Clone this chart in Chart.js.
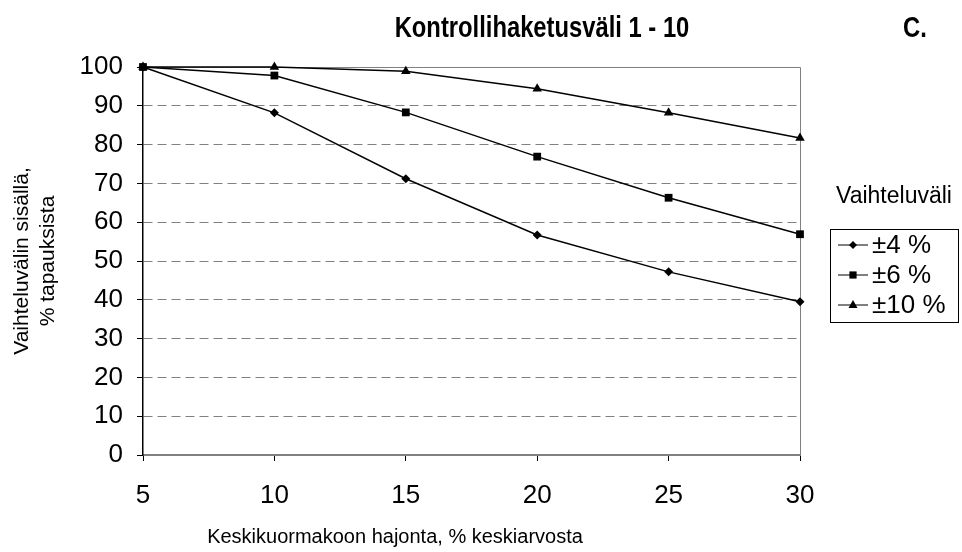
<!DOCTYPE html>
<html lang="fi">
<head>
    <meta charset="UTF-8">
    <title>Kontrollihaketusväli 1 - 10</title>
    <script src="https://cdn.jsdelivr.net/npm/chart.js"></script>
    <style>
        * { margin: 0; padding: 0; box-sizing: border-box; }
        body { background: #fff; }
        .chart-wrap { position: relative; width: 962px; height: 552px; }
    </style>
</head>
<body>
    <div class="chart-wrap">
        <canvas id="chart"></canvas>
    </div>

    <script>
        // Data
        const hajonta = [5, 10, 15, 20, 25, 30];
        const vali4 = [100, 88.2, 71.2, 56.7, 47.2, 39.5];
        const vali6 = [100, 97.8, 88.3, 76.9, 66.3, 56.9];
        const vali10 = [100, 100, 98.9, 94.4, 88.2, 81.7];
        const seriesNames = ['±4 %', '±6 %', '±10 %'];
        const yTicks = [0, 10, 20, 30, 40, 50, 60, 70, 80, 90, 100];

        const FONT = '"Liberation Sans", Arial, sans-serif';

        // manual marker drawing, used for the legend samples
        function marker(ctx, style, x, y, r) {
            ctx.beginPath();
            if (style === 'rectRot') {
                ctx.moveTo(x, y - r); ctx.lineTo(x + r, y); ctx.lineTo(x, y + r); ctx.lineTo(x - r, y);
            } else if (style === 'rect') {
                ctx.rect(x - r * 0.8, y - r * 0.8, r * 1.6, r * 1.6);
            } else {
                ctx.moveTo(x, y - r); ctx.lineTo(x + r * 0.9, y + r * 0.6); ctx.lineTo(x - r * 0.9, y + r * 0.6);
            }
            ctx.closePath();
            ctx.fill();
        }

        // condensed bold text (the original title uses a narrow face)
        function narrowText(ctx, text, x, y) {
            ctx.save();
            ctx.translate(x, y);
            ctx.scale(0.82, 1);
            ctx.fillText(text, 0, 0);
            ctx.restore();
        }

        // titles, plot frame and legend
        const extras = {
            id: 'extras',
            beforeDatasetsDraw(chart) {
                const { ctx, chartArea: a } = chart;
                ctx.save();
                ctx.strokeStyle = '#808080';
                ctx.lineWidth = 1;
                ctx.beginPath();
                ctx.moveTo(a.left, a.top + 0.5);
                ctx.lineTo(a.right + 0.5, a.top + 0.5);
                ctx.lineTo(a.right + 0.5, a.bottom);
                ctx.stroke();
                ctx.restore();
            },
            afterDraw(chart) {
                const ctx = chart.ctx;
                ctx.save();
                ctx.fillStyle = '#000';
                ctx.textBaseline = 'middle';

                // chart title + letter
                ctx.textAlign = 'center';
                ctx.font = 'bold 29px ' + FONT;
                narrowText(ctx, 'Kontrollihaketusväli 1 - 10', 542, 29);
                narrowText(ctx, 'C.', 915, 29);

                // x axis title
                ctx.font = '20px ' + FONT;
                ctx.fillText('Keskikuormakoon hajonta, % keskiarvosta', 395, 537);

                // y axis title, two lines
                ctx.save();
                ctx.translate(22, 261);
                ctx.rotate(-Math.PI / 2);
                ctx.font = '21px ' + FONT;
                ctx.fillText('Vaihteluvälin sisällä,', 0, 0);
                ctx.fillText('% tapauksista', 0, 26);
                ctx.restore();

                // legend
                ctx.font = '23px ' + FONT;
                ctx.fillText('Vaihteluväli', 894, 197);
                ctx.strokeStyle = '#000';
                ctx.lineWidth = 1;
                ctx.strokeRect(830.5, 229.5, 128, 93);
                ctx.textAlign = 'left';
                ctx.font = '26px ' + FONT;
                const styles = ['rectRot', 'rect', 'triangle'];
                const sizes = [4, 4.5, 5];
                seriesNames.forEach((name, i) => {
                    const y = 245 + i * 30;
                    ctx.beginPath();
                    ctx.moveTo(838, y);
                    ctx.lineTo(868, y);
                    ctx.stroke();
                    marker(ctx, styles[i], 853, y, sizes[i]);
                    ctx.fillText(name, 872, y + 1);
                });
                ctx.restore();
            }
        };

        const lineStyle = {
            borderColor: '#000',
            backgroundColor: '#000',
            borderWidth: 1.4,
            tension: 0,
            clip: false,
            pointBorderWidth: 0
        };

        new Chart(document.getElementById('chart'), {
            type: 'line',
            data: {
                labels: hajonta,
                datasets: [
                    Object.assign({ label: seriesNames[0], data: vali4, pointStyle: 'rectRot', pointRadius: 4.5 }, lineStyle),
                    Object.assign({ label: seriesNames[1], data: vali6, pointStyle: 'rect', pointRadius: 5.5 }, lineStyle),
                    Object.assign({ label: seriesNames[2], data: vali10, pointStyle: 'triangle', pointRadius: 5.5 }, lineStyle)
                ]
            },
            options: {
                responsive: true,
                maintainAspectRatio: false,
                animation: false,
                devicePixelRatio: 1,
                layout: { padding: { top: 67, right: 162, bottom: 0, left: 0 } },
                plugins: {
                    legend: { display: false },
                    tooltip: { enabled: false },
                    title: { display: false }
                },
                scales: {
                    x: {
                        type: 'category',
                        offset: false,
                        afterFit(scale) { scale.height = 97; },
                        grid: {
                            drawOnChartArea: false,
                            drawTicks: true,
                            tickLength: 6,
                            tickColor: '#000',
                            color: '#000'
                        },
                        border: { color: '#808080', width: 2 },
                        ticks: {
                            color: '#000',
                            font: { family: FONT, size: 26 },
                            padding: 19,
                            maxRotation: 0
                        }
                    },
                    y: {
                        min: 0,
                        max: 100,
                        afterFit(scale) { scale.width = 143; },
                        afterBuildTicks(scale) { scale.ticks = yTicks.map(v => ({ value: v })); },
                        grid: {
                            color: '#808080',
                            lineWidth: 1,
                            drawTicks: true,
                            tickLength: 6,
                            tickColor: '#000',
                            tickBorderDash: []
                        },
                        border: { color: '#000', width: 1.5, dash: [9, 5] },
                        ticks: {
                            color: '#000',
                            font: { family: FONT, size: 26 },
                            padding: 14
                        }
                    }
                }
            },
            plugins: [extras]
        });
    </script>
</body>
</html>
